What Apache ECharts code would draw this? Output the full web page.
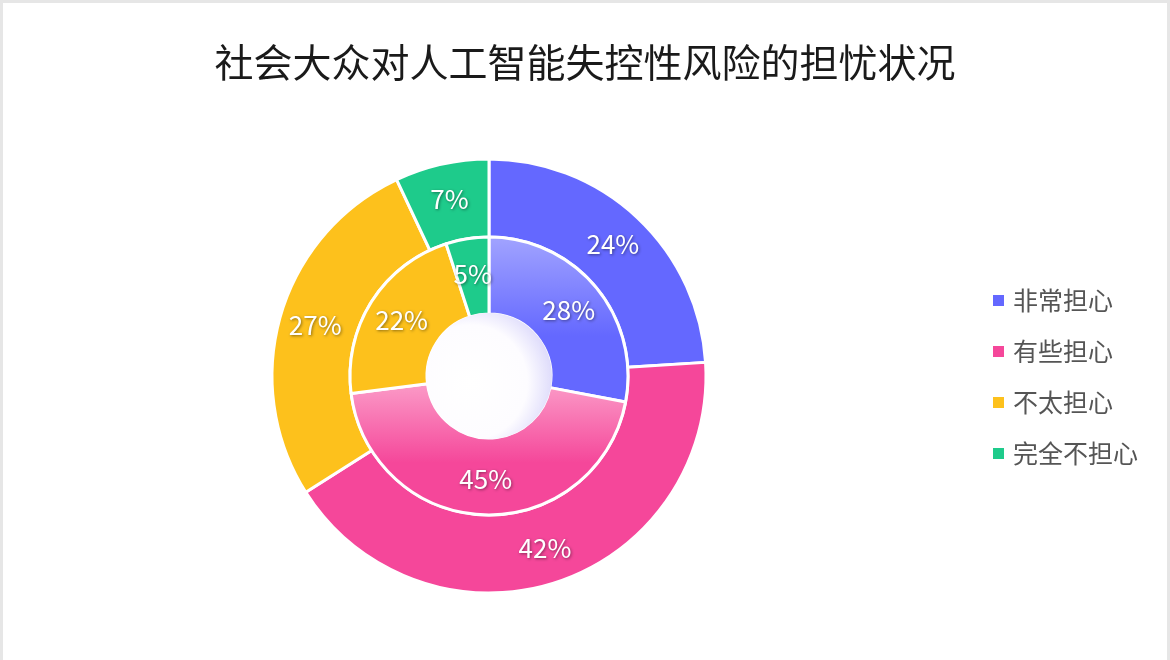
<!DOCTYPE html>
<html>
<head>
<meta charset="utf-8">
<title>社会大众对人工智能失控性风险的担忧状况</title>
<script src="https://cdn.jsdelivr.net/npm/echarts@6/dist/echarts.min.js"></script>
<style>
  html, body { margin: 0; padding: 0; background: #fff; }
  #main { width: 1170px; height: 660px; box-sizing: border-box; border: 3px solid #e6e6e6; border-bottom: none; }
</style>
</head>
<body>
<div id="main"></div>
<script>
// 数据
var categories = ['非常担心', '有些担心', '不太担心', '完全不担心'];
var outerValues = [24, 42, 27, 7];
var innerValues = [28, 45, 22, 5];
var colors = ['#6468FF', '#F5479A', '#FDC11C', '#1ECB8B'];
var lightColors = ['#A2A4FF', '#FB9CC8', '#FDC11C', '#1ECB8B'];

var myChart = echarts.init(document.getElementById('main'));

var labelStyle = {
  show: true,
  position: 'inside',
  formatter: '{c}%',
  color: '#fff',
  fontSize: 26,
  fontFamily: 'Noto Sans CJK SC',
  textShadowColor: 'rgba(0,0,0,0.45)',
  textShadowBlur: 3,
  textShadowOffsetX: 1,
  textShadowOffsetY: 1
};

var outerData = categories.map(function (name, i) {
  return { name: name, value: outerValues[i], itemStyle: { color: colors[i] } };
});
// 内圈：上浅下深的渐变
var innerData = categories.map(function (name, i) {
  return {
    name: name,
    value: innerValues[i],
    itemStyle: {
      color: new echarts.graphic.LinearGradient(0, 0, 0, 1, [
        { offset: 0, color: lightColors[i] },
        { offset: 0.6, color: colors[i] },
        { offset: 1, color: colors[i] }
      ])
    }
  };
});

myChart.setOption({
  backgroundColor: '#fff',
  title: {
    text: '社会大众对人工智能失控性风险的担忧状况',
    left: 'center',
    top: 35,
    textStyle: { fontSize: 39, fontWeight: 'normal', color: '#1a1a1a', fontFamily: 'Noto Sans CJK SC' }
  },
  legend: {
    orient: 'vertical',
    left: 983,
    top: 280,
    icon: 'rect',
    itemWidth: 13,
    itemHeight: 13,
    itemGap: 26,
    data: categories,
    textStyle: { fontSize: 25, color: '#555', fontFamily: 'Noto Sans CJK SC', padding: [0, 0, 0, 3] }
  },
  series: [
    {
      name: '外圈',
      type: 'pie',
      center: [486, 373],
      radius: [139, 217],
      startAngle: 90,
      clockwise: true,
      avoidLabelOverlap: false,
      itemStyle: { borderColor: '#fff', borderWidth: 3 },
      label: labelStyle,
      labelLine: { show: false },
      data: outerData
    },
    {
      name: '内圈',
      type: 'pie',
      center: [486, 373],
      radius: [62, 139],
      startAngle: 90,
      clockwise: true,
      avoidLabelOverlap: false,
      itemStyle: { borderColor: '#fff', borderWidth: 3 },
      label: labelStyle,
      labelLine: { show: false },
      data: innerData
    },
    {
      name: '中心',
      type: 'pie',
      center: [486, 373],
      radius: [0, 63],
      silent: true,
      label: { show: false },
      labelLine: { show: false },
      legendHoverLink: false,
      itemStyle: {
        color: new echarts.graphic.RadialGradient(0.35, 0.55, 0.7, [
          { offset: 0, color: '#ffffff' },
          { offset: 0.65, color: '#fdfcff' },
          { offset: 1, color: '#d8d5fa' }
        ])
      },
      data: [{ name: '', value: 1 }]
    }
  ]
});
</script>
</body>
</html>
